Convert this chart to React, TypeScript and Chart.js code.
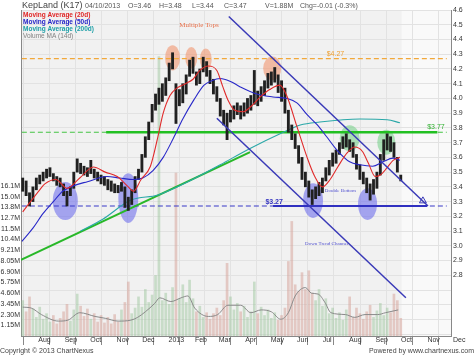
import React, { useEffect, useRef } from 'react';
import { Chart, registerables } from 'chart.js';

Chart.register(...registerables);

// x values: calendar days counted from 1 Aug 2012
const monthDays = [0, 31, 61, 92, 122, 153, 184, 212, 243, 273, 304, 334, 365, 396, 426, 457, 487];
const monthLabels = ['Aug', 'Sep', 'Oct', 'Nov', 'Dec', '2013', 'Feb', 'Mar', 'Apr', 'May', 'Jun', 'Jul', 'Aug', 'Sep', 'Oct', 'Nov', 'Dec'];
const priceTicks = [2.4, 2.5, 2.6, 2.7, 2.8, 2.9, 3.0, 3.1, 3.2, 3.3, 3.4, 3.5, 3.6, 3.7, 3.8, 3.9, 4.0, 4.1, 4.2, 4.3, 4.4, 4.5, 4.6];
const volTicks = [1.15, 2.3, 3.45, 4.6, 5.75, 6.9, 8.05, 9.21, 10.36, 11.51, 12.66, 13.81, 14.96, 16.11];
const volTickLabels = ['1.15M', '2.30M', '3.45M', '4.60M', '5.75M', '6.90M', '8.05M', '9.21M', '10.4M', '11.5M', '12.7M', '13.8M', '15.0M', '16.1M'];

const headerTitle = 'KepLand (K17)';
const headerItems = ['04/10/2013', 'O=3.46', 'H=3.48', 'L=3.44', 'C=3.47', 'V=1.88M', 'Chg=-0.01 (-0.3%)'];
const legendItems = ['Moving Average (20d)', 'Moving Average (50d)', 'Moving Average (200d)', 'Volume MA (14d)'];

// price bars sampled every 4 days starting 16 Jul 2012
const barStartDay = -16;
const barStepDays = 4;
const highs = [3.46, 3.44, 3.36, 3.40, 3.46, 3.48, 3.50, 3.52, 3.53, 3.49, 3.47, 3.46, 3.42, 3.37, 3.40, 3.50, 3.59, 3.56, 3.54, 3.53,
  3.58, 3.52, 3.50, 3.48, 3.47, 3.45, 3.44, 3.42, 3.41, 3.43, 3.40, 3.33, 3.38, 3.47, 3.52, 3.62, 3.74, 3.84, 3.96, 4.03,
  4.07, 4.10, 4.14, 4.24, 4.31, 4.10, 4.06, 4.10, 4.16, 4.26, 4.28, 4.18, 4.20, 4.28, 4.25, 4.19, 4.13, 4.08, 4.00, 3.92,
  3.90, 3.92, 3.95, 3.97, 3.95, 3.97, 4.00, 4.02, 4.19, 4.05, 4.08, 4.12, 4.17, 4.18, 4.21, 4.16, 4.12, 4.07, 3.92, 3.82,
  3.76, 3.68, 3.60, 3.50, 3.44, 3.38, 3.40, 3.43, 3.46, 3.53, 3.58, 3.63, 3.65, 3.70, 3.74, 3.76, 3.72, 3.70, 3.62, 3.55,
  3.50, 3.46, 3.42, 3.45, 3.50, 3.62, 3.72, 3.76, 3.74, 3.70, 3.60, 3.48];
const lows = [3.37, 3.34, 3.27, 3.30, 3.38, 3.42, 3.44, 3.46, 3.47, 3.44, 3.41, 3.40, 3.34, 3.27, 3.34, 3.39, 3.50, 3.49, 3.48, 3.47,
  3.49, 3.46, 3.44, 3.42, 3.41, 3.38, 3.37, 3.36, 3.36, 3.37, 3.26, 3.24, 3.28, 3.36, 3.45, 3.50, 3.60, 3.72, 3.84, 3.92,
  3.96, 3.98, 4.02, 4.12, 4.20, 3.83, 3.95, 3.97, 4.03, 4.15, 4.17, 4.09, 4.10, 4.18, 4.15, 4.10, 4.03, 3.98, 3.88, 3.82,
  3.72, 3.84, 3.86, 3.89, 3.86, 3.88, 3.90, 3.92, 3.96, 3.95, 3.98, 4.02, 4.07, 4.09, 4.11, 4.04, 3.98, 3.90, 3.77, 3.72,
  3.66, 3.56, 3.45, 3.40, 3.33, 3.28, 3.32, 3.34, 3.36, 3.44, 3.48, 3.54, 3.56, 3.62, 3.66, 3.67, 3.64, 3.60, 3.52, 3.45,
  3.42, 3.36, 3.31, 3.35, 3.39, 3.48, 3.58, 3.65, 3.64, 3.60, 3.50, 3.44];
// volume in millions, same sampling
const volumes = [3.8, 2.6, 4.2, 2.9, 2.0, 3.1, 1.8, 2.4, 1.5, 2.2, 1.3, 1.9, 2.6, 3.4, 1.6, 2.8, 4.5, 3.2, 2.1, 2.9,
  1.8, 2.4, 1.5, 2.2, 1.4, 2.0, 1.3, 2.3, 1.5, 2.8, 3.6, 5.8, 2.4, 3.0, 4.2, 3.1, 5.0, 3.6, 4.4, 6.5,
  30.0, 3.8, 4.6, 3.4, 5.2, 17.5, 4.0, 5.5, 3.6, 6.0, 4.0, 2.6, 3.2, 2.0, 2.5, 1.8, 2.4, 3.0, 2.2, 3.8,
  7.8, 4.2, 2.8, 3.5, 2.6, 3.2, 2.0, 2.6, 5.8, 2.4, 3.1, 2.2, 2.8, 1.9, 2.5, 1.7, 2.2, 3.0, 8.0, 12.3,
  5.5, 4.8, 6.8, 5.0, 7.0, 4.6, 3.8, 5.0, 3.2, 4.0, 2.4, 3.0, 1.9, 2.5, 1.7, 2.8, 4.2, 2.0, 3.0, 2.4,
  1.8, 2.6, 3.3, 2.0, 2.7, 3.5, 2.2, 3.0, 2.5, 4.5, 3.8, 1.9];

const ma20Days = [-16, 4, 10, 23, 36, 51, 67, 81, 95, 108, 114, 123, 134, 142, 149, 157, 165, 175, 184, 192, 202, 212, 219, 225, 233, 243, 251, 263, 274, 286, 294, 306, 318, 327, 336, 345, 354, 365, 374, 383, 390, 398, 404, 412, 419, 427];
const ma20Vals = [3.23, 3.38, 3.42, 3.45, 3.39, 3.46, 3.535, 3.50, 3.47, 3.40, 3.37, 3.45, 3.54, 3.72, 3.90, 4.02, 4.07, 4.10, 4.13, 4.19, 4.22, 4.19, 4.08, 3.99, 3.92, 3.91, 3.94, 4.01, 4.06, 4.09, 4.02, 3.81, 3.60, 3.47, 3.40, 3.45, 3.535, 3.63, 3.67, 3.64, 3.56, 3.47, 3.48, 3.53, 3.58, 3.60];
const ma50Days = [-17, -4, 8, 20, 31, 45, 60, 83, 98, 114, 125, 137, 149, 161, 172, 185, 197, 206, 216, 228, 239, 259, 278, 294, 306, 318, 330, 341, 353, 368, 380, 395, 407, 419, 427];
const ma50Vals = [3.03, 3.12, 3.22, 3.30, 3.37, 3.41, 3.435, 3.47, 3.46, 3.45, 3.46, 3.51, 3.60, 3.73, 3.86, 3.99, 4.09, 4.12, 4.135, 4.115, 4.08, 4.03, 4.01, 4.00, 3.97, 3.89, 3.82, 3.74, 3.65, 3.57, 3.55, 3.54, 3.57, 3.595, 3.58];
const ma200Days = [52, 78, 111, 143, 180, 216, 251, 290, 310, 333, 380, 412, 427];
const ma200Vals = [3.10, 3.18, 3.31, 3.345, 3.44, 3.55, 3.66, 3.77, 3.82, 3.84, 3.86, 3.855, 3.835];
const volMaDays = [-16, -6, 6, 26, 37, 51, 69, 81, 96, 111, 119, 128, 139, 145, 158, 170, 178, 186, 202, 213, 225, 240, 252, 264, 276, 287, 296, 304, 316, 323, 331, 339, 346, 363, 374, 386, 401, 410, 425];
const volMaVals = [3.1, 3.0, 2.3, 1.6, 1.7, 2.5, 2.1, 1.9, 1.6, 1.7, 2.0, 2.6, 3.5, 4.1, 3.7, 4.1, 4.3, 3.0, 2.1, 2.3, 3.3, 3.3, 2.5, 2.8, 2.6, 1.8, 2.5, 4.3, 5.2, 4.6, 4.5, 3.6, 2.5, 2.3, 2.0, 2.3, 2.3, 2.5, 2.8];

const lastDataDay = 429;

// drawn studies
const resistanceLevel = 4.27;
const necklineLevel = 3.77;
const supportLevel = 3.27;
const levelSpanDays = [-17, 482];
const necklineSolidDays = [82, 471];
const supportSolidDays = [278, 459];
const trendLineDays = [-18, 251];
const trendLineVals = [2.904, 3.636];
const channelUpperDays = [226, 460];
const channelUpperVals = [4.556, 3.27];
const channelLowerDays = [212, 434];
const channelLowerVals = [3.866, 2.647];
const channelEndMarkDays = [454];
const channelEndMarkVals = [3.305];

const ellipseDays = [160, 182, 199, 277, 34, 108, 325, 389, 368, 411];
const ellipseVals = [4.275, 4.275, 4.265, 4.204, 3.304, 3.324, 3.307, 3.283, 3.73, 3.703];
const ellipseDayRadii = [8.8, 7, 7, 10.6, 14.7, 11.7, 11.7, 11.2, 11.7, 10.6];
const ellipseValRadii = [0.085, 0.074, 0.074, 0.081, 0.129, 0.169, 0.118, 0.108, 0.088, 0.085];
const ellipseKinds = ['top', 'top', 'top', 'top', 'bottom', 'bottom', 'bottom', 'bottom', 'neck', 'neck'];

const noteTexts = ['Multiple Tops', 'Double Bottom', 'Down Trend Channel', '$4.27', '$3.77', '$3.27'];
const noteDays = [191, 357, 341, 341, 459, 269];
const noteVals = [4.498, 3.374, 3.014, 4.303, 3.804, 3.297];

const SANS = '"Liberation Sans", Arial, sans-serif';
const SERIF = '"Liberation Serif", "DejaVu Serif", serif';

export default function App() {
  const ref = useRef<HTMLCanvasElement>(null);

  useEffect(() => {
    document.body.style.margin = '0';
    const canvas = ref.current;
    if (!canvas) return;

    const days = highs.map((_, i) => barStartDay + i * barStepDays);
    const mids = highs.map((h, i) => (h + lows[i]) / 2);
    const volColors = volumes.map((_, i) =>
      i === 0 || mids[i] >= mids[i - 1] ? 'rgba(150,195,150,0.45)' : 'rgba(214,160,150,0.5)');
    const pts = (ds: number[], vs: number[]) => ds.map((d, i) => ({ x: d, y: vs[i] }));

    const lineDs = (data: any[], color: string, width: number, extra: any = {}) => ({
      type: 'line' as const,
      data,
      yAxisID: 'price',
      borderColor: color,
      borderWidth: width,
      pointRadius: 0,
      fill: false,
      ...extra,
    });

    const bgPlugin = {
      id: 'bg',
      beforeDraw(chart: any) {
        const { ctx, chartArea: a, scales } = chart;
        ctx.save();
        ctx.fillStyle = '#ffffff';
        ctx.fillRect(0, 0, chart.width, chart.height);
        ctx.fillStyle = '#f1f1f1';
        ctx.fillRect(a.left, a.top, a.right - a.left, a.bottom - a.top);
        const fx = scales.x.getPixelForValue(lastDataDay);
        ctx.fillStyle = '#f9f9f9';
        ctx.fillRect(fx, a.top, a.right - fx, a.bottom - a.top);
        ctx.restore();
      },
      beforeDatasetsDraw(chart: any) {
        const { ctx, chartArea: a, scales } = chart;
        const x = scales.x, y = scales.price;
        ctx.save();
        ctx.beginPath();
        ctx.rect(a.left, a.top, a.right - a.left, a.bottom - a.top);
        ctx.clip();
        const fills: Record<string, string> = {
          top: 'rgba(242,150,112,0.6)',
          bottom: 'rgba(112,112,236,0.6)',
          neck: 'rgba(112,206,132,0.55)',
        };
        ellipseDays.forEach((d, i) => {
          const cx = x.getPixelForValue(d);
          const cy = y.getPixelForValue(ellipseVals[i]);
          const rx = Math.abs(x.getPixelForValue(d + ellipseDayRadii[i]) - cx);
          const ry = Math.abs(y.getPixelForValue(ellipseVals[i] + ellipseValRadii[i]) - cy);
          ctx.beginPath();
          ctx.ellipse(cx, cy, rx, ry, 0, 0, Math.PI * 2);
          ctx.fillStyle = fills[ellipseKinds[i]];
          ctx.fill();
        });
        ctx.restore();
      },
      afterDraw(chart: any) {
        const { ctx, scales } = chart;
        const x = scales.x, y = scales.price;
        ctx.save();
        ctx.textBaseline = 'middle';
        // header
        ctx.fillStyle = '#444';
        ctx.font = `9px ${SANS}`;
        ctx.textAlign = 'left';
        ctx.fillText(headerTitle, 22, 6);
        ctx.font = `7px ${SANS}`;
        ctx.fillStyle = '#555';
        const hx = [85, 128, 159, 192, 224, 265, 300];
        headerItems.forEach((t, i) => ctx.fillText(t, hx[i], 6));
        // legend
        const lc = ['#e02828', '#2424c8', '#20a0a8', '#808080'];
        legendItems.forEach((t, i) => {
          ctx.fillStyle = lc[i];
          ctx.font = i === 3 ? `6.5px ${SANS}` : `bold 6.5px ${SANS}`;
          ctx.fillText(t, 23, 15 + i * 7.2);
        });
        // notes
        const noteStyle = [
          { c: '#e8704a', f: `7px ${SERIF}`, a: 'center' },
          { c: '#5050d0', f: `5px ${SERIF}`, a: 'center' },
          { c: '#5050d0', f: `5px ${SERIF}`, a: 'center' },
          { c: '#f0a030', f: `7px ${SANS}`, a: 'left' },
          { c: '#30b030', f: `7px ${SANS}`, a: 'left' },
          { c: '#3535c0', f: `bold 7px ${SANS}`, a: 'left' },
        ];
        noteTexts.forEach((t, i) => {
          const s = noteStyle[i];
          ctx.fillStyle = s.c;
          ctx.font = s.f;
          ctx.textAlign = s.a as CanvasTextAlign;
          ctx.fillText(t, x.getPixelForValue(noteDays[i]), y.getPixelForValue(noteVals[i]));
        });
        // footer
        ctx.font = `7px ${SANS}`;
        ctx.fillStyle = '#444';
        ctx.textAlign = 'left';
        ctx.fillText('Copyright \u00a9 2013 ChartNexus', 0, 351);
        ctx.textAlign = 'right';
        ctx.fillText('Powered by www.chartnexus.com', 474, 351);
        ctx.restore();
      },
    };

    const chart = new Chart(canvas, {
      type: 'bar',
      data: {
        datasets: [
          {
            type: 'bar',
            data: days.map((d, i) => ({ x: d, y: volumes[i] })),
            yAxisID: 'vol',
            backgroundColor: volColors,
            barThickness: 2,
            grouped: false,
            order: 20,
          } as any,
          lineDs(pts(volMaDays, volMaVals), '#8a8a8a', 1, { yAxisID: 'vol', cubicInterpolationMode: 'monotone', order: 19 }),
          lineDs(pts(levelSpanDays, [resistanceLevel, resistanceLevel]), '#f2a83a', 1.2, { borderDash: [5, 3], order: 18 }),
          lineDs(pts(levelSpanDays, [necklineLevel, necklineLevel]), '#44c444', 1.1, { borderDash: [5, 3], order: 18 }),
          lineDs(pts(necklineSolidDays, [necklineLevel, necklineLevel]), '#22c022', 2.6, { order: 17 }),
          lineDs(pts(levelSpanDays, [supportLevel, supportLevel]), '#3838c8', 1.2, { borderDash: [5, 3], order: 18 }),
          lineDs(pts(supportSolidDays, [supportLevel, supportLevel]), '#3030c0', 2, { order: 17 }),
          lineDs(pts(trendLineDays, trendLineVals), '#28b828', 2, { order: 16 }),
          lineDs(pts(ma200Days, ma200Vals), '#2aa8a8', 1.1, { cubicInterpolationMode: 'monotone', order: 15 }),
          {
            type: 'bar',
            data: days.map((d, i) => ({ x: d, y: [lows[i], highs[i]] })),
            yAxisID: 'price',
            backgroundColor: '#202020',
            barThickness: 2.2,
            grouped: false,
            order: 14,
          } as any,
          lineDs(pts(ma50Days, ma50Vals), '#2828c8', 1.1, { cubicInterpolationMode: 'monotone', order: 13 }),
          lineDs(pts(ma20Days, ma20Vals), '#e02a2a', 1.1, { cubicInterpolationMode: 'monotone', order: 12 }),
          lineDs(pts(channelUpperDays, channelUpperVals), '#3a3ab8', 1.5, { order: 11 }),
          lineDs(pts(channelLowerDays, channelLowerVals), '#3a3ab8', 1.5, { order: 11 }),
          {
            type: 'scatter',
            data: pts(channelEndMarkDays, channelEndMarkVals),
            yAxisID: 'price',
            pointStyle: 'triangle',
            pointRadius: 4,
            borderColor: '#3a3ab8',
            borderWidth: 1,
            backgroundColor: 'rgba(0,0,0,0)',
            order: 10,
          } as any,
        ],
      },
      options: {
        animation: false,
        responsive: false,
        devicePixelRatio: 1,
        layout: { padding: { top: 10, left: 0, right: 0, bottom: 0 } },
        plugins: { legend: { display: false }, tooltip: { enabled: false } },
        scales: {
          x: {
            type: 'linear',
            min: -18,
            max: 487,
            offset: false,
            afterBuildTicks: (s: any) => { s.ticks = monthDays.map((v) => ({ value: v })); },
            afterFit: (s: any) => { s.height = 19; },
            ticks: {
              autoSkip: false,
              maxRotation: 0,
              align: 'start',
              padding: -9.5,
              color: '#333',
              font: { size: 7, family: SANS },
              callback: (_v: any, i: number) => ' ' + monthLabels[i],
            },
            grid: { color: '#e2e2e2', tickColor: '#888', tickLength: 9 },
            border: { display: true, color: '#888' },
          },
          price: {
            type: 'linear',
            position: 'right',
            min: 2.388,
            max: 4.6,
            afterBuildTicks: (s: any) => { s.ticks = priceTicks.map((v) => ({ value: v })); },
            afterFit: (s: any) => { s.width = 23; },
            ticks: {
              padding: 2,
              color: '#333',
              font: { size: 7, family: SANS },
              callback: (v: any) => (v >= 2.75 ? Number(v).toFixed(1) : ''),
            },
            grid: { color: '#e2e2e2', drawTicks: false },
            border: { display: true, color: '#888' },
          },
          vol: {
            type: 'linear',
            position: 'left',
            min: 0,
            max: 35,
            afterBuildTicks: (s: any) => { s.ticks = volTicks.map((v) => ({ value: v })); },
            afterFit: (s: any) => { s.width = 21; },
            ticks: {
              padding: 1,
              color: '#333',
              font: { size: 7, family: SANS },
              callback: (_v: any, i: number) => volTickLabels[i],
            },
            grid: { display: false, drawTicks: false },
            border: { display: true, color: '#888' },
          },
        },
      } as any,
      plugins: [bgPlugin],
    });

    return () => chart.destroy();
  }, []);

  return (
    <div style={{ position: 'fixed', left: 0, top: 0, width: 474, height: 355 }}>
      <canvas ref={ref} width={474} height={355} style={{ display: 'block', width: 474, height: 355 }} />
    </div>
  );
}
